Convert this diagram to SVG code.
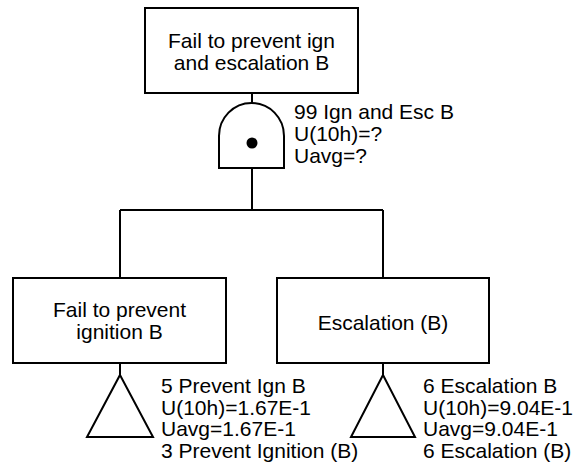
<svg xmlns="http://www.w3.org/2000/svg" width="577" height="475" viewBox="0 0 577 475">
<style>
.box{fill:#fff;stroke:#000;stroke-width:2}
.ln{fill:none;stroke:#000;stroke-width:2}
text{font-family:"Liberation Sans",Arial,sans-serif;font-size:21px;fill:#000}
.c{text-anchor:middle}
</style>
<rect width="577" height="475" fill="#fff"/>
<g id="connectors">
<path class="ln" d="M252,93V103M252,168V210M120,210H383M120,210V278M383,210V278M120,363V375M383,363V375"/>
</g>
<g id="top">
<rect class="box" x="145" y="8" width="213" height="85"/>
<text class="c" x="251.5" y="48">Fail to prevent ign</text>
<text class="c" x="251.5" y="69.5">and escalation B</text>
</g>
<g id="gate99">
<path class="box" d="M219,168V136A32.5,33 0 0 1 284,136V168Z"/>
<circle cx="252" cy="143" r="5.5" fill="#000"/>
<text x="294" y="119">99 Ign and Esc B</text>
<text x="294" y="141">U(10h)=?</text>
<text x="294" y="163">Uavg=?</text>
</g>
<g id="left">
<rect class="box" x="13" y="278" width="213" height="85"/>
<text class="c" x="119.5" y="317">Fail to prevent</text>
<text class="c" x="119.5" y="338.5">ignition B</text>
</g>
<g id="right">
<rect class="box" x="277" y="278" width="212" height="85"/>
<text class="c" x="383" y="330">Escalation (B)</text>
</g>
<g id="transfer5">
<path class="box" d="M120,375L153,437H87Z"/>
<text x="161" y="393">5 Prevent Ign B</text>
<text x="161" y="414.5">U(10h)=1.67E-1</text>
<text x="161" y="436">Uavg=1.67E-1</text>
<text x="161" y="457.5">3 Prevent Ignition (B)</text>
</g>
<g id="transfer6">
<path class="box" d="M383,375L415,437H351Z"/>
<text x="423" y="393">6 Escalation B</text>
<text x="423" y="414.5">U(10h)=9.04E-1</text>
<text x="423" y="436">Uavg=9.04E-1</text>
<text x="423" y="457.5">6 Escalation (B)</text>
</g>
</svg>
